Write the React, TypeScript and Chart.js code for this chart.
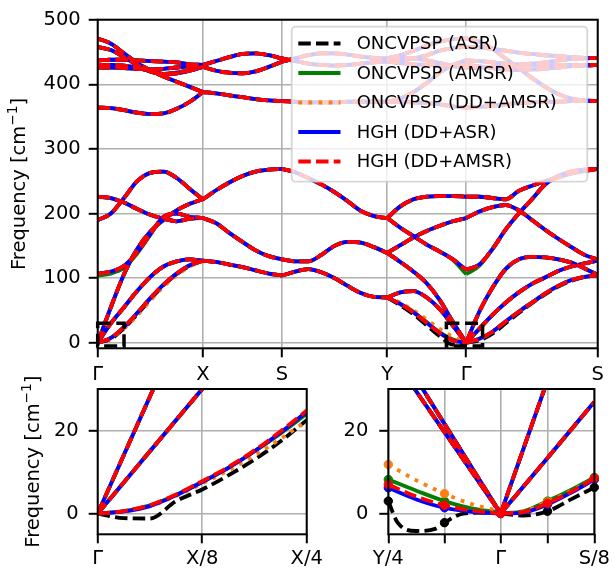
import { useEffect, useRef } from "react";
import { Chart, registerables } from "chart.js";

Chart.register(...registerables);

const W = 614;
const H = 571;
const FONT = "'DejaVu Sans', sans-serif";
const TICK_FS = 19.5;
const LEGEND_FS = 18;
const LINE_W = 3.8;

// ---------- series ----------
const SERIES_NAMES = ["ONCVPSP (ASR)", "ONCVPSP (AMSR)", "ONCVPSP (DD+AMSR)", "HGH (DD+ASR)", "HGH (DD+AMSR)"];
const SERIES_COLORS = ["#000000", "#008000", "#ff7f0e", "#0000ff", "#ff0000"];
const SERIES_DASHES = [[12.5, 5.2], [], [3.8, 6.3], [], [12.5, 5.2]];

// ---------- main panel axes ----------
const MAIN_X_TICKS = [0, 1, 1.75, 2.75, 3.5, 4.75];
const MAIN_X_LABELS = ["Γ", "X", "S", "Y", "Γ", "S"];
const MAIN_Y_TICKS = [0, 100, 200, 300, 400, 500];

// ---------- main panel bands (cm^-1), per path segment ----------
const GX_K = [0, 0.125, 0.25, 0.375, 0.5, 0.625, 0.75, 0.875, 1];
const GX_ZA = [0, 7.5, 24.5, 46, 69, 90, 107, 120, 127];
const GX_TA = [0, 30, 55, 80, 102, 118, 126, 129, 127];
const GX_LA = [0, 55, 106, 145, 172, 190, 205, 215, 222];
const GX_B4 = [107, 110, 119, 140, 168, 195, 200, 195, 193];
const GX_B5 = [190, 200, 224, 250, 263, 265, 255, 238, 222];
const GX_B6 = [226, 224, 217, 207, 198, 192, 188, 192, 193];
const GX_O1 = [364, 363, 360, 356, 354, 355, 362, 373, 388];
const GX_O2 = [471, 463, 448, 433, 422, 412, 404, 396, 388];
const GX_O3 = [458, 453, 442, 430, 420, 416, 418, 422, 427];
const GX_O4 = [437, 438, 438, 437, 436, 435, 434, 431, 430];
const GX_O5 = [430, 430, 429, 426, 420, 416, 417, 421, 427];
const GX_O6 = [426, 426, 425, 424, 423, 424, 426, 428, 430];

const XS_K = [1, 1.125, 1.25, 1.375, 1.5, 1.625, 1.75];
const XS_A = [127, 125, 121, 117, 112, 107, 104];
const XS_B = [193, 185, 170, 156, 143, 134, 129];
const XS_C = [222, 236, 248, 258, 265, 268, 269];
const XS_O = [388, 386, 383, 380, 377, 375, 374];
const XS_PU = [430, 436, 442, 447, 448, 445, 440];
const XS_PL = [427, 421, 418, 417, 420, 427, 435];

const SY_K = [1.75, 1.875, 2, 2.125, 2.25, 2.375, 2.5, 2.625, 2.75];
const SY_A = [104, 110, 114, 109, 100, 88, 77, 71, 70];
const SY_B = [129, 126, 126, 136, 150, 156, 155, 148, 139];
const SY_D = [269, 264, 255, 245, 233, 219, 204, 196, 193];
const SY_O = [374, 373, 372, 372, 372, 373, 373, 373, 373];
const SY_PU = [440, 436, 432, 430, 429, 430, 432, 434, 435];
const SY_PL = [435, 440, 445, 448, 448, 446, 443, 441, 440];

const YG_K = [2.75, 2.875, 3, 3.125, 3.25, 3.375, 3.5];
const YG_ZA = [70, 60, 47, 31, 15, 3.5, 0];
const YG_TA = [70, 78, 80, 70, 52, 26, 0];
const YG_LA = [139, 125, 110, 92, 66, 32, 0];
const YG_BU = [139, 151, 163, 173, 181, 188, 193];
const YG_DU = [193, 211, 222, 226, 227, 227, 226];
const YG_DD = [193, 178, 165, 152, 141, 129, 113];
const YG_O1 = [373, 373, 372, 371, 369, 366, 364];
const YG_O2 = [373, 378, 388, 402, 418, 430, 437];
const YG_O3 = [435, 437, 440, 445, 452, 456, 458];
const YG_O4 = [435, 433, 431, 430, 429, 429, 430];
const YG_O5 = [440, 441, 440, 437, 433, 428, 425];
const YG_O6 = [440, 445, 452, 460, 466, 470, 471];

const GS_K = [3.5, 3.625, 3.75, 3.875, 4, 4.125, 4.25, 4.375, 4.5, 4.625, 4.75];
const GS_ZA = [0, 6, 17, 33, 48, 62, 76, 88, 97, 102, 104];
const GS_TA = [0, 21.5, 43, 62, 78, 91, 101, 111, 118, 123, 127];
const GS_LA = [0, 48, 85, 114, 129, 133, 132, 129, 124, 115, 105];
const GS_B4 = [113, 121, 145, 175, 200, 222, 245, 258, 265, 268, 269];
const GS_B5 = [193, 203, 210, 213, 205, 190, 175, 161, 148, 136, 129];
const GS_B6 = [226, 226, 224, 222, 235, 243, 250, 256, 262, 266, 269];
const GS_O1 = [364, 365, 367, 369, 371, 372, 373, 373, 374, 374, 374];
const GS_O2 = [425, 426, 427, 428, 429, 430, 430, 430, 430, 430, 430];
const GS_O3 = [430, 428, 425, 423, 422, 423, 424, 426, 428, 429, 430];
const GS_O4 = [437, 436, 434, 432, 431, 432, 434, 437, 439, 440, 441];
const GS_O5 = [458, 457, 455, 452, 449, 447, 445, 444, 442, 441, 441];
const GS_O6 = [471, 466, 455, 440, 425, 410, 396, 385, 378, 375, 374];

// series-specific deviations in the main panel
const GX_ZA_BLACK = [0, 5.8, 22.5, 44, 67, 89, 106, 119, 127];
const YG_ZA_BLACK = [70, 58, 44, 27, 10, -3, 0];
const GS_ZA_BLACK = [0, 3.5, 14, 30, 46, 61, 75, 87, 96, 102, 104];
const GX_B4_GREEN = [104, 107, 116, 138, 167, 195, 200, 195, 193];
const YG_ZA_GREEN = [70, 60, 48, 32, 16, 5, 0.3];
const YG_DD_GREEN = [193, 178, 165, 152, 141, 128, 106];
const GS_B4_GREEN = [106, 119, 145, 175, 200, 222, 245, 258, 265, 268, 269];
const GX_ZA_ORANGE = [0, 7, 22, 42, 65, 87, 104, 118, 126];
const YG_ZA_ORANGE = [70, 62, 50, 36, 21, 9, 0.5];

// zoom windows shown as dashed boxes: [kMin, fMin, kMax, fMax]
const ZOOM_BOX_LEFT = [0, -5, 0.25, 30];
const ZOOM_BOX_RIGHT = [3.3125, -5, 3.65625, 30];

// ---------- bottom-left panel (Γ → X/4) ----------
const L_X_TICKS = [0, 0.125, 0.25];
const L_X_LABELS = ["Γ", "X/8", "X/4"];
const Z_Y_TICKS = [0, 20];
const L_K_LA = [0, 0.0625, 0.125];
const L_LA = [0, 28.2, 56.4];
const L_K_TA = [0, 0.0625, 0.125, 0.1875];
const L_TA = [0, 15, 30, 45];
const L_K_ZA = [0, 0.03125, 0.0625, 0.09375, 0.125, 0.15625, 0.1875, 0.21875, 0.25];
const L_ZA_BLACK = [0, -1.1, -1.2, 3.0, 5.8, 9.2, 13, 17.4, 22.5];
const L_ZA_GREEN = [0, 0.6, 2.0, 4.5, 7.6, 11, 15, 19.3, 24];
const L_ZA_ORANGE = [0, 0.5, 1.8, 4.2, 7.2, 10.4, 14, 18, 22.3];
const L_ZA_BLUE = [0, 0.5, 1.8, 4.4, 7.6, 11, 15, 19.5, 24.5];
const L_ZA_RED = [0, 0.6, 2.0, 4.6, 7.8, 11.2, 15.2, 19.8, 24.8];

// ---------- bottom-right panel (Y/4 → Γ → S/8) ----------
const R_X_TICKS = [-0.1875, -0.09375, 0, 0.078125, 0.15625];
const R_X_LABELS = ["Y/4", "", "Γ", "", "S/8"];
const R_K_STEEP_Y = [-0.1875, -0.09375, 0];
const R_TA_Y = [39.2, 19.6, 0];
const R_LA_Y = [43.3, 21.6, 0];
const R_K_STEEP_S = [0, 0.078125, 0.15625];
const R_LA_S = [0, 32.1, 64.2];
const R_TA_S = [0, 13.4, 26.9];
const R_K_ZA_Y = [-0.1875, -0.140625, -0.09375, -0.046875, 0];
const R_ZA_Y_GREEN = [8.2, 5.5, 3.0, 1.2, 0.3];
const R_ZA_Y_ORANGE = [11.8, 8.0, 4.8, 2.2, 0.6];
const R_ZA_Y_BLUE = [6.2, 3.4, 1.4, 0.4, 0];
const R_ZA_Y_RED = [7, 4.1, 2.0, 0.7, 0];
const R_K_ZA_Y_BLACK = [-0.1875, -0.171875, -0.140625, -0.109375, -0.09375, -0.0625, -0.03125, 0];
const R_ZA_Y_BLACK = [3, -2.2, -4.2, -3.7, -2.2, 0, 0.2, 0];
const R_K_ZA_S = [0, 0.0390625, 0.078125, 0.1171875, 0.15625];
const R_ZA_S_BLACK = [0, -0.5, 0.55, 3.4, 6.3];
const R_ZA_S_GREEN = [0, 0.6, 3.0, 5.7, 8.7];
const R_ZA_S_ORANGE = [0, 0.6, 2.8, 5.4, 8.4];
const R_ZA_S_BLUE = [0, 0.3, 2.2, 5.0, 8.2];
const R_ZA_S_RED = [0, 0.4, 2.5, 5.2, 8.5];
const R_MARK_K = [-0.1875, -0.09375, 0, 0.078125, 0.15625];
const R_MARK_BLACK = [3.0, -2.2, 0, 0.55, 6.3];
const R_MARK_GREEN = [8.2, 3.0, 0.3, 3.0, 8.7];
const R_MARK_ORANGE = [11.8, 4.8, 0.6, 2.8, 8.4];
const R_MARK_BLUE = [6.2, 1.4, 0, 2.2, 8.2];
const R_MARK_RED = [7, 2.0, 0, 2.5, 8.5];

// ---------- assembly ----------
const SEGMENTS = [
  { id: "GX", k: GX_K, bands: [GX_ZA, GX_TA, GX_LA, GX_B4, GX_B5, GX_B6, GX_O1, GX_O2, GX_O3, GX_O4, GX_O5, GX_O6] },
  { id: "XS", k: XS_K, bands: [XS_A, XS_B, XS_C, XS_O, XS_PU, XS_PL] },
  { id: "SY", k: SY_K, bands: [SY_A, SY_B, SY_D, SY_O, SY_PU, SY_PL] },
  { id: "YG", k: YG_K, bands: [YG_ZA, YG_TA, YG_LA, YG_BU, YG_DU, YG_DD, YG_O1, YG_O2, YG_O3, YG_O4, YG_O5, YG_O6] },
  { id: "GS", k: GS_K, bands: [GS_ZA, GS_TA, GS_LA, GS_B4, GS_B5, GS_B6, GS_O1, GS_O2, GS_O3, GS_O4, GS_O5, GS_O6] },
];

const OVERRIDES: Record<string, number[]>[] = [
  { GX0: GX_ZA_BLACK, YG0: YG_ZA_BLACK, GS0: GS_ZA_BLACK },
  { GX3: GX_B4_GREEN, YG0: YG_ZA_GREEN, YG5: YG_DD_GREEN, GS3: GS_B4_GREEN },
  { GX0: GX_ZA_ORANGE, YG0: YG_ZA_ORANGE },
  {},
  {},
];

const L_ZA = [L_ZA_BLACK, L_ZA_GREEN, L_ZA_ORANGE, L_ZA_BLUE, L_ZA_RED];
const R_ZA_Y = [R_ZA_Y_BLACK, R_ZA_Y_GREEN, R_ZA_Y_ORANGE, R_ZA_Y_BLUE, R_ZA_Y_RED];
const R_ZA_S = [R_ZA_S_BLACK, R_ZA_S_GREEN, R_ZA_S_ORANGE, R_ZA_S_BLUE, R_ZA_S_RED];
const R_MARK = [R_MARK_BLACK, R_MARK_GREEN, R_MARK_ORANGE, R_MARK_BLUE, R_MARK_RED];

const pts = (k: number[], y: number[]) => k.map((x, i) => ({ x, y: y[i] }));

function lineDs(data: any[], s: number) {
  return {
    data,
    borderColor: SERIES_COLORS[s],
    backgroundColor: SERIES_COLORS[s],
    borderWidth: LINE_W,
    borderDash: SERIES_DASHES[s],
    borderCapStyle: "butt",
    pointRadius: 0,
    cubicInterpolationMode: "monotone",
    fill: false,
    clip: 0,
  };
}

function markerDs(data: any[], s: number) {
  return {
    data,
    showLine: false,
    borderColor: SERIES_COLORS[s],
    backgroundColor: SERIES_COLORS[s],
    pointRadius: 4.2,
    pointBorderWidth: 1,
    pointBackgroundColor: SERIES_COLORS[s],
    pointBorderColor: SERIES_COLORS[s],
    clip: 6,
  };
}

// Chart.js paints dataset 0 last (on top); reverse so later series sit on top,
// matching the plotting order of the original figure.
const topLast = (list: any[]) => list.slice().reverse();

function mainDatasets() {
  const out: any[] = [];
  for (let s = 0; s < SERIES_COLORS.length; s++) {
    for (const seg of SEGMENTS) {
      seg.bands.forEach((band, b) => {
        const ys = OVERRIDES[s][seg.id + b] || band;
        out.push(lineDs(pts(seg.k, ys), s));
      });
    }
  }
  return topLast(out);
}

function leftDatasets() {
  const out: any[] = [];
  for (let s = 0; s < SERIES_COLORS.length; s++) {
    out.push(lineDs(pts(L_K_LA, L_LA), s));
    out.push(lineDs(pts(L_K_TA, L_TA), s));
    out.push(lineDs(pts(L_K_ZA, L_ZA[s]), s));
  }
  return topLast(out);
}

function rightDatasets() {
  const out: any[] = [];
  for (let s = 0; s < SERIES_COLORS.length; s++) {
    out.push(lineDs(pts(R_K_STEEP_Y, R_TA_Y), s));
    out.push(lineDs(pts(R_K_STEEP_Y, R_LA_Y), s));
    out.push(lineDs(pts(R_K_STEEP_S, R_LA_S), s));
    out.push(lineDs(pts(R_K_STEEP_S, R_TA_S), s));
    out.push(lineDs(pts(s === 0 ? R_K_ZA_Y_BLACK : R_K_ZA_Y, R_ZA_Y[s]), s));
    out.push(lineDs(pts(R_K_ZA_S, R_ZA_S[s]), s));
    out.push(markerDs(pts(R_MARK_K, R_MARK[s]), s));
  }
  return topLast(out);
}

function axis(o: { min: number; max: number; ticks: number[]; labels?: string[]; horizontal: boolean; size: number; pad: number }) {
  return {
    type: "linear",
    min: o.min,
    max: o.max,
    afterBuildTicks: (sc: any) => {
      sc.ticks = o.ticks.map((v) => ({ value: v }));
    },
    afterFit: (sc: any) => {
      if (o.horizontal) sc.height = o.size;
      else sc.width = o.size;
    },
    grid: { color: "#b0b0b0", lineWidth: 1.6, drawTicks: true, tickLength: 9, tickColor: "#000", tickWidth: 2 },
    border: { display: false },
    ticks: {
      autoSkip: false,
      maxRotation: 0,
      minRotation: 0,
      padding: o.pad,
      color: "#000",
      font: { family: FONT, size: TICK_FS },
      callback: (v: number, i: number) => (o.labels ? o.labels[i] : String(v)),
    },
  };
}

function drawFrame(ctx: CanvasRenderingContext2D, a: any) {
  ctx.save();
  ctx.strokeStyle = "#000";
  ctx.lineWidth = 2;
  ctx.setLineDash([]);
  ctx.strokeRect(a.left, a.top, a.right - a.left, a.bottom - a.top);
  ctx.restore();
}

function drawYTitle(ctx: CanvasRenderingContext2D, bx: number, cy: number) {
  const f = TICK_FS;
  const t1 = "Frequency [cm";
  const t2 = "−1";
  const t3 = "]";
  ctx.save();
  ctx.fillStyle = "#000";
  ctx.textBaseline = "alphabetic";
  ctx.textAlign = "left";
  ctx.font = `${f}px ${FONT}`;
  const w1 = ctx.measureText(t1).width;
  const w3 = ctx.measureText(t3).width;
  ctx.font = `${f * 0.7}px ${FONT}`;
  const w2 = ctx.measureText(t2).width;
  const total = w1 + w2 + w3;
  ctx.translate(bx, cy);
  ctx.rotate(-Math.PI / 2);
  const x0 = -total / 2;
  ctx.font = `${f}px ${FONT}`;
  ctx.fillText(t1, x0, 0);
  ctx.font = `${f * 0.7}px ${FONT}`;
  ctx.fillText(t2, x0 + w1, -f * 0.4);
  ctx.font = `${f}px ${FONT}`;
  ctx.fillText(t3, x0 + w1 + w2, 0);
  ctx.restore();
}

function drawLegend(ctx: CanvasRenderingContext2D) {
  const x0 = 291.7, y0 = 26.7, w = 295.6, h = 155;
  const rowY = [43.5, 73, 102.5, 132, 161.5];
  ctx.save();
  ctx.beginPath();
  (ctx as any).roundRect(x0, y0, w, h, 4);
  ctx.fillStyle = "rgba(255,255,255,0.8)";
  ctx.fill();
  ctx.strokeStyle = "rgba(204,204,204,0.8)";
  ctx.lineWidth = 1.8;
  ctx.stroke();
  ctx.font = `${LEGEND_FS}px ${FONT}`;
  ctx.textBaseline = "middle";
  ctx.textAlign = "left";
  SERIES_NAMES.forEach((name, s) => {
    const y = rowY[s];
    ctx.beginPath();
    ctx.setLineDash(SERIES_DASHES[s]);
    ctx.lineCap = "butt";
    ctx.strokeStyle = SERIES_COLORS[s];
    ctx.lineWidth = LINE_W;
    ctx.moveTo(298.3, y);
    ctx.lineTo(340.5, y);
    ctx.stroke();
    ctx.setLineDash([]);
    ctx.fillStyle = "#000";
    ctx.fillText(name, 356.7, y + 1);
  });
  ctx.restore();
}

function drawZoomBoxes(chart: any) {
  const { ctx, scales } = chart;
  const x = scales.x, y = scales.y;
  ctx.save();
  ctx.strokeStyle = "#000";
  ctx.lineWidth = 3.5;
  ctx.setLineDash([13, 5.6]);
  for (const b of [ZOOM_BOX_LEFT, ZOOM_BOX_RIGHT]) {
    const px0 = x.getPixelForValue(b[0]);
    const px1 = x.getPixelForValue(b[2]);
    const py0 = y.getPixelForValue(b[3]);
    const py1 = y.getPixelForValue(b[1]);
    ctx.strokeRect(px0, py0, px1 - px0, py1 - py0);
  }
  ctx.restore();
}

const baseOptions = (padding: any, scales: any) => ({
  animation: false,
  responsive: false,
  devicePixelRatio: 1,
  events: [],
  layout: { padding },
  plugins: { legend: { display: false }, tooltip: { enabled: false } },
  scales,
});

function mainConfig(): any {
  return {
    type: "line",
    data: { datasets: mainDatasets() },
    options: baseOptions(
      { left: 0, top: 16, right: 16.3, bottom: 0 },
      {
        x: axis({ min: 0, max: 4.75, ticks: MAIN_X_TICKS, labels: MAIN_X_LABELS, horizontal: true, size: H - 348.3, pad: 5.5 }),
        y: axis({ min: -8.6, max: 500, ticks: MAIN_Y_TICKS, horizontal: false, size: 97.7, pad: 8 }),
      }
    ),
    plugins: [
      {
        id: "mainDecor",
        afterDatasetsDraw(chart: any) {
          drawZoomBoxes(chart);
          drawFrame(chart.ctx, chart.chartArea);
        },
        afterDraw(chart: any) {
          drawLegend(chart.ctx);
          const a = chart.chartArea;
          drawYTitle(chart.ctx, 25, (a.top + a.bottom) / 2);
        },
      },
    ],
  };
}

function leftConfig(): any {
  return {
    type: "line",
    data: { datasets: leftDatasets() },
    options: baseOptions(
      { left: 0, top: 389, right: W - 306.7, bottom: 0 },
      {
        x: axis({ min: 0, max: 0.25, ticks: L_X_TICKS, labels: L_X_LABELS, horizontal: true, size: H - 534.3, pad: 4 }),
        y: axis({ min: -5, max: 30, ticks: Z_Y_TICKS, horizontal: false, size: 97.7, pad: 10 }),
      }
    ),
    plugins: [
      {
        id: "leftDecor",
        afterDatasetsDraw(chart: any) {
          drawFrame(chart.ctx, chart.chartArea);
        },
        afterDraw(chart: any) {
          const a = chart.chartArea;
          drawYTitle(chart.ctx, 38.5, (a.top + a.bottom) / 2);
        },
      },
    ],
  };
}

function rightConfig(): any {
  return {
    type: "line",
    data: { datasets: rightDatasets() },
    options: baseOptions(
      { left: 0, top: 389, right: W - 597.7, bottom: 0 },
      {
        x: axis({ min: -0.1875, max: 0.15625, ticks: R_X_TICKS, labels: R_X_LABELS, horizontal: true, size: H - 534.3, pad: 4 }),
        y: axis({ min: -5, max: 30, ticks: Z_Y_TICKS, horizontal: false, size: 388.3, pad: 11 }),
      }
    ),
    plugins: [
      {
        id: "rightDecor",
        afterDatasetsDraw(chart: any) {
          drawFrame(chart.ctx, chart.chartArea);
        },
      },
    ],
  };
}

export default function App() {
  const mainRef = useRef<HTMLCanvasElement>(null);
  const leftRef = useRef<HTMLCanvasElement>(null);
  const rightRef = useRef<HTMLCanvasElement>(null);

  useEffect(() => {
    const charts = [
      new Chart(mainRef.current as HTMLCanvasElement, mainConfig()),
      new Chart(leftRef.current as HTMLCanvasElement, leftConfig()),
      new Chart(rightRef.current as HTMLCanvasElement, rightConfig()),
    ];
    return () => charts.forEach((c) => c.destroy());
  }, []);

  const cs: any = { position: "absolute", left: 0, top: 0 };
  return (
    <div style={{ position: "absolute", left: 0, top: 0, width: W, height: H, background: "#fff", overflow: "hidden" }}>
      <canvas ref={mainRef} width={W} height={H} style={cs} />
      <canvas ref={leftRef} width={W} height={H} style={cs} />
      <canvas ref={rightRef} width={W} height={H} style={cs} />
    </div>
  );
}
